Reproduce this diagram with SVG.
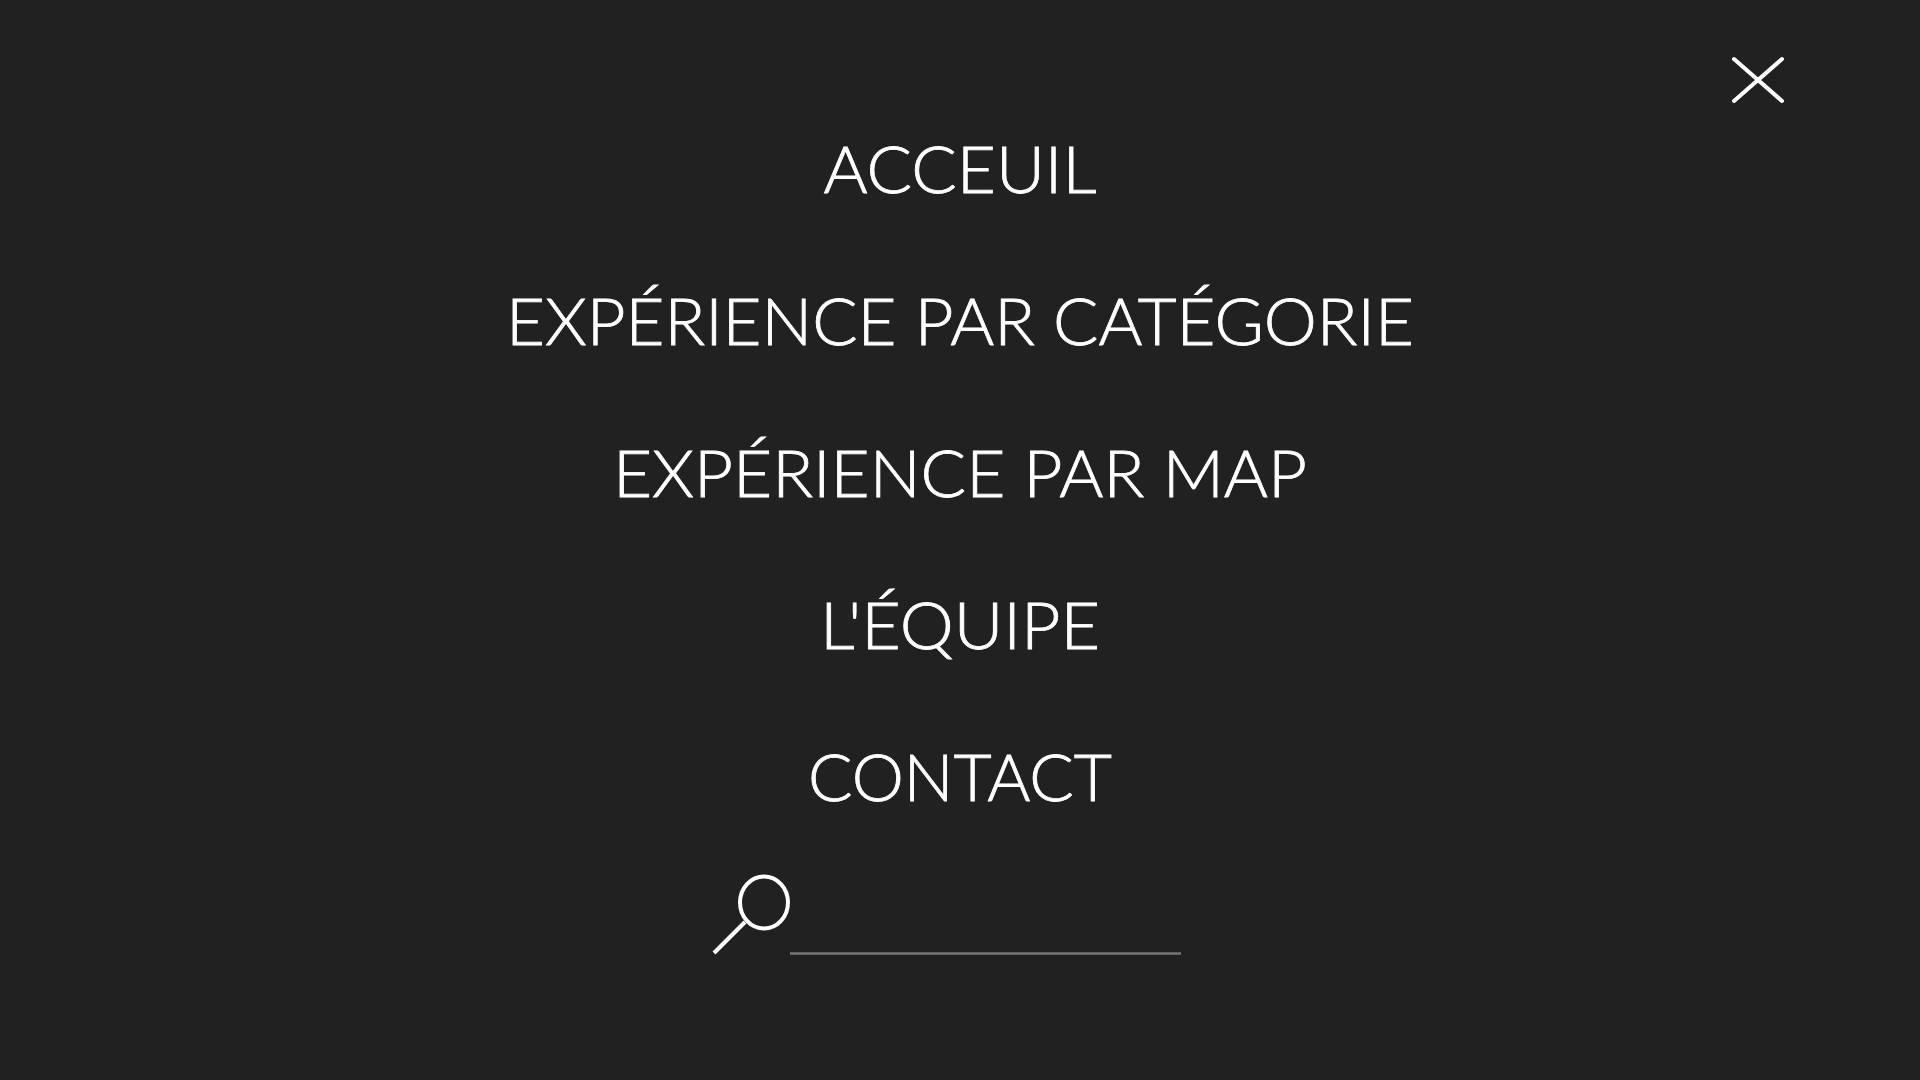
<svg xmlns="http://www.w3.org/2000/svg" width="1920" height="1080" viewBox="0 0 1920 1080">
<style>
.m{font-family:"Lato","Open Sans",sans-serif;font-weight:300;font-size:65px;fill:#fff;stroke:#fff;stroke-width:0.8;text-anchor:middle}
.s{fill:none;stroke:#fff;stroke-width:4}
</style>
<rect width="1920" height="1080" fill="#212121"/>
<g id="close"><path class="s" stroke-linecap="round" d="M1734 59L1782 101M1734 101L1782 59"/></g>
<g id="nav-accueil"><text class="m" x="960" y="193" textLength="273" lengthAdjust="spacingAndGlyphs">ACCEUIL</text></g>
<g id="nav-categorie"><text class="m" x="960" y="345" textLength="908" lengthAdjust="spacingAndGlyphs">EXPÉRIENCE PAR CATÉGORIE</text></g>
<g id="nav-map"><text class="m" x="960" y="497" textLength="694" lengthAdjust="spacingAndGlyphs">EXPÉRIENCE PAR MAP</text></g>
<g id="nav-equipe"><text class="m" x="960" y="649" textLength="280" lengthAdjust="spacingAndGlyphs">L'ÉQUIPE</text></g>
<g id="nav-contact"><text class="m" x="960" y="801" textLength="304" lengthAdjust="spacingAndGlyphs">CONTACT</text></g>
<g id="search"><ellipse class="s" cx="764" cy="902.5" rx="24" ry="26"/><path class="s" d="M714 953L745 922"/><path d="M790 953.5H1181" stroke="#777" stroke-width="2.5" fill="none"/></g>
</svg>
